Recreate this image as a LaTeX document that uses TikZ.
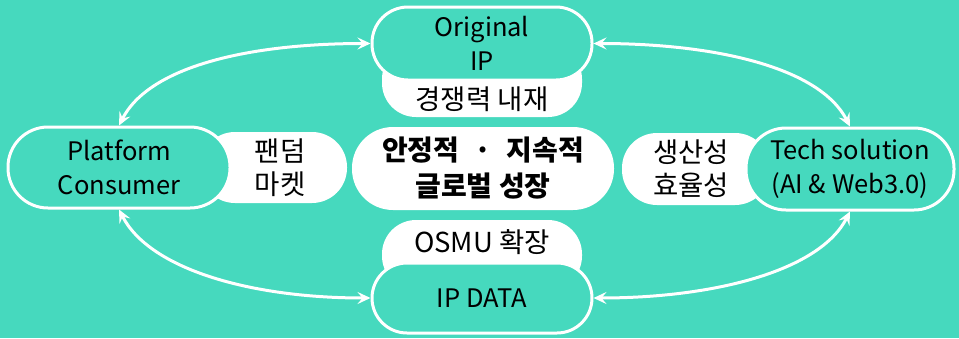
\documentclass[tikz,border=0pt]{standalone}
\usepackage{fontspec}
\setmainfont{Noto Sans CJK KR}
\usetikzlibrary{arrows.meta}
\definecolor{bg}{HTML}{46D9BE}
\begin{document}
\begin{tikzpicture}[x=1pt,y=1pt,
  txt/.style={inner sep=0pt, align=center, text=black, font=\fontsize{27.5}{33}\selectfont},
  wshape/.style={fill=white, inner sep=0pt},
  pill/.style={draw=white, line width=3pt, fill=bg, inner sep=0pt, align=center, text=black, font=\fontsize{25.5}{34}\selectfont},
  link/.style={draw=white, line width=3pt, {Stealth[length=13pt,width=12pt,inset=5pt]}-{Stealth[length=13pt,width=12pt,inset=5pt]}}
]
\fill[bg] (0,0) rectangle (959,-338);
\useasboundingbox (0,0) rectangle (959,-338);

% white backing shapes
\node[wshape, minimum width=200, minimum height=72, rounded corners=34] (topw) at (482,-81) {};
\node[wshape, minimum width=200, minimum height=70, rounded corners=34] (botw) at (482,-255) {};
\node[wshape, minimum width=147, minimum height=71, rounded corners=35] (leftw) at (273.5,-167.5) {};
\node[wshape, minimum width=148, minimum height=72, rounded corners=35] (rightw) at (696,-169) {};
\node[wshape, minimum width=262, minimum height=83, rounded corners=41, txt, font=\fontsize{28}{36}\selectfont\bfseries] (center) at (483,-168.5) {안정적\hspace{15pt}·\hspace{15pt}지속적\\글로벌 성장};

% teal pills
\node[pill, minimum width=220, minimum height=73, rounded corners=36] (orig) at (482,-43.5) {Original\\IP};
\node[pill, minimum width=222, minimum height=81, rounded corners=40] (plat) at (119,-167.5) {Platform\\Consumer};
\node[pill, minimum width=208, minimum height=82, rounded corners=40] (tech) at (850,-169) {Tech solution\\(AI \& Web3.0)};
\node[pill, minimum width=220, minimum height=70, rounded corners=35] (data) at (482,-298) {IP DATA};

% labels on white shapes
\node[txt] (topl) at (482,-99) {경쟁력 내재};
\node[txt] (botl) at (482,-242) {OSMU 확장};
\node[txt] (leftl) at (280,-168) {팬덤\\마켓};
\node[txt] (rightl) at (691,-169) {생산성\\효율성};

% connectors
\draw[link] (plat.north) to[out=63,in=180,out distance=67,in distance=120] (orig.west);
\draw[link] (orig.east) to[out=0,in=117,out distance=120,in distance=67] (tech.north);
\draw[link] (plat.south) to[out=-63,in=180,out distance=67,in distance=120] (data.west);
\draw[link] (data.east) to[out=0,in=-117,out distance=120,in distance=67] (tech.south);
\end{tikzpicture}
\end{document}
